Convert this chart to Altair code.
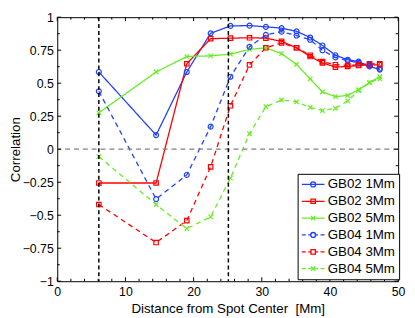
import altair as alt
import pandas as pd

# ---- data ----
distance = [6.1, 14.5, 19.0, 22.5, 25.4, 28.2, 30.6, 32.9, 35.1, 37.1, 38.9, 40.8, 42.6, 44.2, 45.8, 47.3]
gb02_1 = [0.585, 0.107, 0.585, 0.878, 0.934, 0.936, 0.927, 0.917, 0.893, 0.846, 0.786, 0.712, 0.678, 0.663, 0.627, 0.603]
gb02_3 = [-0.256, -0.256, 0.647, 0.837, 0.841, 0.844, 0.841, 0.817, 0.768, 0.702, 0.654, 0.622, 0.627, 0.634, 0.639, 0.639]
gb02_5 = [0.276, 0.585, 0.702, 0.707, 0.720, 0.756, 0.768, 0.724, 0.642, 0.532, 0.435, 0.398, 0.407, 0.451, 0.505, 0.549]
gb04_1 = [0.439, -0.378, -0.195, 0.171, 0.549, 0.776, 0.866, 0.890, 0.861, 0.829, 0.749, 0.695, 0.671, 0.654, 0.634, 0.610]
gb04_3 = [-0.419, -0.707, -0.541, -0.134, 0.329, 0.639, 0.768, 0.805, 0.768, 0.712, 0.663, 0.640, 0.634, 0.639, 0.646, 0.646]
gb04_5 = [-0.056, -0.419, -0.602, -0.512, -0.219, 0.117, 0.322, 0.373, 0.358, 0.317, 0.293, 0.310, 0.366, 0.444, 0.505, 0.532]

series = ["GB02 1Mm", "GB02 3Mm", "GB02 5Mm", "GB04 1Mm", "GB04 3Mm", "GB04 5Mm"]
values = [gb02_1, gb02_3, gb02_5, gb04_1, gb04_3, gb04_5]
series_marker = ["circle", "square", "x", "circle", "square", "x"]
series_style = ["solid", "solid", "solid", "dashed", "dashed", "dashed"]

vlines = [6.1, 25.1]
hline = [0]
x_major = [0, 10, 20, 30, 40, 50]
x_minor = [v for v in range(0, 51, 2) if v % 10 != 0]
y_major = [-1, -0.75, -0.5, -0.25, 0, 0.25, 0.5, 0.75, 1]
y_minor = [-0.875, -0.625, -0.375, -0.125, 0.125, 0.375, 0.625, 0.875]

# ---- styles ----
BLUE, RED, GREEN = "#2040ff", "#ff0000", "#66ee22"
colors = [BLUE, RED, GREEN, BLUE, RED, GREEN]
marker_names = ["circle", "square", "x"]
marker_paths = ["M-1,0A1,1 0 1,0 1,0A1,1 0 1,0 -1,0",
                "M-0.9,-0.9H0.9V0.9H-0.9Z",
                "M-0.9,-0.9L0.9,0.9M-0.9,0.9L0.9,-0.9"]
style_names = ["solid", "dashed"]
style_dashes = [[1, 0], [5, 4]]

# legend symbols (line + marker), unit = 5 px
solid = "M-2.3,0H2.3"
dashed = "M-2.3,0H-1.5M-1.0,0H-0.3M0.3,0H1.0M1.5,0H2.3"
l_circ = "M-0.5,0A0.5,0.5 0 1,0 0.5,0A0.5,0.5 0 1,0 -0.5,0"
l_sq = "M-0.45,-0.45H0.45V0.45H-0.45Z"
l_x = "M-0.45,-0.45L0.45,0.45M-0.45,0.45L0.45,-0.45"
leg_paths = [solid + l_circ, solid + l_sq, solid + l_x,
             dashed + l_circ, dashed + l_sq, dashed + l_x]
shape_expr = ""
for s, p in zip(series[:-1], leg_paths[:-1]):
    shape_expr += f"datum.value === '{s}' ? '{p}' : "
shape_expr += f"'{leg_paths[-1]}'"

rows = []
for s, m, st, vals in zip(series, series_marker, series_style, values):
    for d, v in zip(distance, vals):
        rows.append({"distance": d, "corr": v, "series": s, "marker": m, "style": st})
df = pd.DataFrame(rows)

W, H = 346, 268
FONT = "Liberation Sans"
XT = "Distance from Spot Center\u00a0 [Mm]"
YT = "Correlation"

xscale = alt.Scale(domain=[0, 50], nice=False, zero=False)
yscale = alt.Scale(domain=[-1, 1], nice=False, zero=False)

x_axis = alt.Axis(values=x_major, format="d", labelFlush=False, labelPadding=5,
                  title=XT, titlePadding=3)
y_axis = alt.Axis(values=y_major, labelExpr="format(datum.value, '.2~f')", labelPadding=4,
                  title=YT, titlePadding=0)


def X(f):
    return alt.X(f, scale=xscale, axis=x_axis, title=XT)


def Y(f):
    return alt.Y(f, scale=yscale, axis=y_axis, title=YT)


legend = alt.Legend(
    orient="none", legendX=244, legendY=159, title=None, direction="vertical",
    strokeColor="black", fillColor="white", padding=4, rowPadding=2.1,
    labelFont=FONT, labelFontSize=13.5, labelColor="black",
    symbolSize=100, symbolStrokeWidth=1.3, symbolOffset=5, labelOffset=8,
    symbolType=alt.ExprRef(shape_expr), symbolOpacity=1, symbolFillColor="transparent",
)

lines = alt.Chart(df).mark_line(strokeWidth=1.3).encode(
    x=X("distance:Q"),
    y=Y("corr:Q"),
    color=alt.Color("series:N", scale=alt.Scale(domain=series, range=colors), legend=legend),
    strokeDash=alt.StrokeDash("style:N", scale=alt.Scale(domain=style_names, range=style_dashes), legend=None),
    detail="series:N",
)

points = alt.Chart(df).mark_point(filled=False, size=25, strokeWidth=1.2, opacity=1).encode(
    x=X("distance:Q"),
    y=Y("corr:Q"),
    color=alt.Color("series:N", scale=alt.Scale(domain=series, range=colors), legend=None),
    shape=alt.Shape("marker:N", scale=alt.Scale(domain=marker_names, range=marker_paths), legend=None),
)

vrules = alt.Chart(pd.DataFrame({"v": vlines})).mark_rule(
    color="black", strokeDash=[4, 3], strokeWidth=1.5
).encode(x=X("v:Q"))

hrule = alt.Chart(pd.DataFrame({"h": hline})).mark_rule(
    color="#808080", strokeDash=[5, 4], strokeWidth=1.3
).encode(y=Y("h:Q"))


def xticks(vals, ln):
    d = pd.DataFrame({"t": vals})
    b = alt.Chart(d).mark_rule(color="black", strokeWidth=1)
    bottom = b.encode(x=X("t:Q"), y=alt.value(H), y2=alt.value(H - ln))
    top = b.encode(x=X("t:Q"), y=alt.value(0), y2=alt.value(ln))
    return [bottom, top]


def yticks(vals, ln):
    d = pd.DataFrame({"t": vals})
    b = alt.Chart(d).mark_rule(color="black", strokeWidth=1)
    left = b.encode(y=Y("t:Q"), x=alt.value(0), x2=alt.value(ln))
    right = b.encode(y=Y("t:Q"), x=alt.value(W), x2=alt.value(W - ln))
    return [left, right]


ticks = xticks(x_major, 4) + xticks(x_minor, 2.5) + yticks(y_major, 4) + yticks(y_minor, 2.5)

chart = alt.layer(
    lines, points, hrule, vrules, *ticks
).properties(
    width=W, height=H,
    autosize=alt.AutoSizeParams(type="none"),
    padding={"left": 50, "top": 7, "right": 9, "bottom": 34},
).configure_view(
    stroke="black", strokeWidth=1
).configure_axis(
    grid=False, domain=False, ticks=False, tickSize=0,
    labelFont=FONT, labelFontSize=12.5, labelColor="black",
    titleFont=FONT, titleFontSize=13.5, titleFontWeight="normal", titleColor="black",
    labelOverlap=False,
)

chart.save("out.html", embed_options={"renderer": "svg", "actions": False})
